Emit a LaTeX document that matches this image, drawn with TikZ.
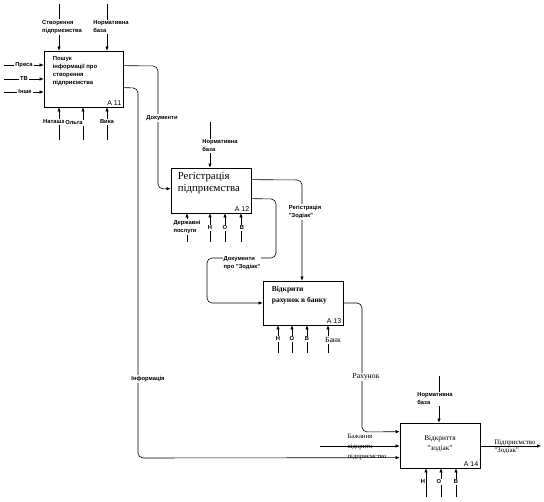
\documentclass[tikz,border=0pt]{standalone}
\usepackage{fontspec}
\setmainfont{Liberation Serif}
\setsansfont{Liberation Sans}
\usetikzlibrary{positioning, arrows.meta, calc, backgrounds}

\begin{document}
\begin{tikzpicture}[x=1pt, y=-1pt, >={Latex[length=4pt,width=3.5pt]},
    func/.style={draw, line width=0.7pt, inner sep=0pt, minimum width=80pt, minimum height=45pt},
    lbl/.style={font=\sffamily\bfseries\fontsize{5.8}{8}\selectfont, align=left, fill=white, inner sep=1pt},
    slbl/.style={font=\fontsize{7.8}{9}\selectfont, align=left, inner sep=1pt},
    fnum/.style={font=\sffamily\fontsize{7}{8}\selectfont, anchor=south east, inner sep=2pt},
    flow/.style={line width=0.6pt, rounded corners=5pt},
  ]
    \useasboundingbox (0,0) rectangle (544,502);

    % --- блоки ---
    \node[func, minimum width=79pt, minimum height=56pt] (A11) at (83.5,79) {};
    \node[func] (A12) at (211,190.5) {};
    \node[func, minimum height=44pt] (A13) at (303,303) {};
    \node[func] (A14) at (440,445.5) {};

    % --- назви блоків ---
    \node[font=\sffamily\bfseries\fontsize{5.9}{8}\selectfont, align=left, inner sep=0pt,
          below right=6pt and 9pt of A11.north west] (A11t) {Пошук\\інформації про\\створення\\підприємства};
    \node[font=\fontsize{10.8}{12}\selectfont, align=left, inner sep=0pt,
          below right=5pt and 7pt of A12.north west] (A12t) {Регістрація\\підприємства};
    \node[font=\bfseries\fontsize{7.5}{11}\selectfont, align=left, inner sep=0pt,
          below right=5pt and 9pt of A13.north west] (A13t) {Відкрити\\рахунок в банку};
    \node[font=\fontsize{7.3}{10}\selectfont, align=center, inner sep=0pt] (A14t) at (440,444) {Відкриття\\"зодіак"};

    \node[fnum] (A11n) at (A11.south east) {A 11};
    \node[fnum] (A12n) at (A12.south east) {A 12};
    \node[fnum] (A13n) at (A13.south east) {A 13};
    \node[fnum] (A14n) at (A14.south east) {A 14};

    % --- кінці стрілок ---
    \coordinate (c11a) at (59,4);
    \coordinate (c11b) at (107,4);
    \coordinate (i11a) at (4,65);
    \coordinate (i11b) at (4,79);
    \coordinate (i11c) at (4,92);
    \coordinate (m11a) at (59,140);
    \coordinate (m11b) at (83,140);
    \coordinate (m11c) at (107,140);
    \coordinate (c12) at (210,122);
    \coordinate (m12a) at (187,242);
    \coordinate (m12b) at (210,242);
    \coordinate (m12c) at (225,242);
    \coordinate (m12d) at (241,242);
    \coordinate (m13a) at (278,353);
    \coordinate (m13b) at (292,353);
    \coordinate (m13c) at (307,353);
    \coordinate (m13d) at (328,353);
    \coordinate (c14) at (439,376);
    \coordinate (i14) at (320,446);
    \coordinate (o14) at (541,446);
    \coordinate (m14a) at (426,497);
    \coordinate (m14b) at (441,497);
    \coordinate (m14c) at (456,497);

    % --- підписи ---
    \node[lbl] (c11al) at (62,27) {Створення\\підприємства};
    \node[lbl] (c11bl) at (111,27) {Нормативна\\база};
    \node[lbl] (i11al) at (24,65) {Преса};
    \node[lbl] (i11bl) at (24,79) {ТВ};
    \node[lbl] (i11cl) at (25,92) {Інше};
    \node[lbl] (m11al) at (54,122) {Наташа};
    \node[lbl] (m11bl) at (74,123) {Ольга};
    \node[lbl] (m11cl) at (107,122) {Вика};
    \node[lbl] (docl) at (162,118) {Документи};
    \node[lbl] (infl) at (148,379) {Інформація};
    \node[lbl] (c12l) at (220,146) {Нормативна\\база};
    \node[lbl] (m12al) at (187,227) {Державні\\послуги};
    \node[lbl] (m12bl) at (210,228) {Н};
    \node[lbl] (m12cl) at (225,228) {О};
    \node[lbl] (m12dl) at (242,228) {В};
    \node[lbl] (regl) at (305,212) {Регістрація\\"Зодіак"};
    \node[lbl] (dzl) at (242,263) {Документи\\про "Зодіак"};
    \node[lbl] (m13al) at (278,339) {Н};
    \node[lbl] (m13bl) at (292,339) {О};
    \node[lbl] (m13cl) at (307,339) {В};
    \node[slbl, fill=white] (m13dl) at (333,340) {Банк};
    \node[slbl, fill=white] (rahl) at (366,377) {Рахунок};
    \node[lbl] (c14l) at (435,399) {Нормативна\\база};
    \node[slbl, font=\fontsize{6.7}{10}\selectfont] (i14l) at (367,447) {Бажання\\відкрити\\підприємство};
    \node[slbl, font=\fontsize{6.9}{8}\selectfont] (o14l) at (515,447) {Підприємство\\"Зодіак"};
    \node[lbl] (m14al) at (423,482) {Н};
    \node[lbl] (m14bl) at (439,482) {О};
    \node[lbl] (m14cl) at (456,482) {В};

    \begin{scope}[on background layer]
      % --- A11 ---
      \draw[flow,->] (c11a) -- (c11a |- A11.north);
      \draw[flow,->] (c11b) -- (c11b |- A11.north);
      \draw[flow,->] (i11a) -- (i11a -| A11.west);
      \draw[flow,->] (i11b) -- (i11b -| A11.west);
      \draw[flow,->] (i11c) -- (i11c -| A11.west);
      \draw[flow,->] (m11a) -- (m11a |- A11.south);
      \draw[flow,->] (m11b) -- (m11b |- A11.south);
      \draw[flow,->] (m11c) -- (m11c |- A11.south);
      \draw[flow,->] ($(A11.north east)+(0,15)$) -- (158,66) -- (158,189) -- ($(A12.north west)+(0,21)$);
      \draw[flow,->] ($(A11.north east)+(0,37)$) -- (138,88) -- (138,458) -- ($(A14.north west)+(0,35)$);

      % --- A12 ---
      \draw[flow,->] (c12) -- (c12 |- A12.north);
      \draw[flow,->] (m12a) -- (m12a |- A12.south);
      \draw[flow,->] (m12b) -- (m12b |- A12.south);
      \draw[flow,->] (m12c) -- (m12c |- A12.south);
      \draw[flow,->] (m12d) -- (m12d |- A12.south);
      \draw[flow,->] ($(A12.north east)+(0,12)$) -- (302,180) -- (302,281 |- A13.north);
      \draw[flow,->] ($(A12.north east)+(0,31)$) -- (276,199) -- (276,258) -- (207,258) -- (207,303) -- (A13.west);

      % --- A13 ---
      \draw[flow,->] (m13a) -- (m13a |- A13.south);
      \draw[flow,->] (m13b) -- (m13b |- A13.south);
      \draw[flow,->] (m13c) -- (m13c |- A13.south);
      \draw[flow,->] (m13d) -- (m13d |- A13.south);
      \draw[flow,->] (A13.east) -- (362,303) -- (362,432) -- ($(A14.north west)+(0,9)$);

      % --- A14 ---
      \draw[flow,->] (c14) -- (c14 |- A14.north);
      \draw[flow,->] (i14) -- (i14 -| A14.west);
      \draw[flow,->] (o14 -| A14.east) -- (o14);
      \draw[flow,->] (m14a) -- (m14a |- A14.south);
      \draw[flow,->] (m14b) -- (m14b |- A14.south);
      \draw[flow,->] (m14c) -- (m14c |- A14.south);
    \end{scope}

\end{tikzpicture}
\end{document}
